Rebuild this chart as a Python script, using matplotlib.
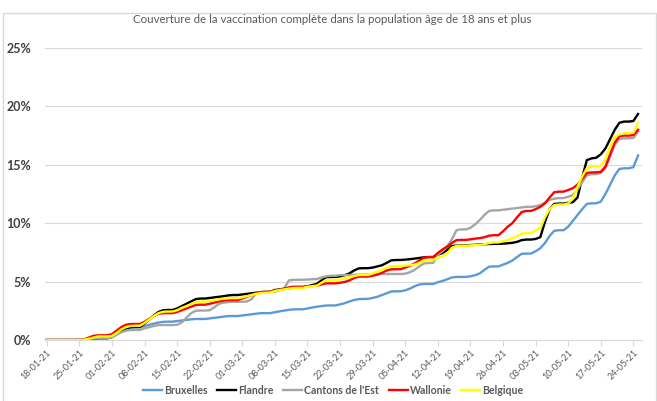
import numpy as np
import matplotlib
matplotlib.use('Agg')
import matplotlib.pyplot as plt
import matplotlib.dates as mdates
from matplotlib.patches import Rectangle
import pandas as pd

plt.rcParams['font.family'] = ['Lato', 'DejaVu Sans']

# daily values (%), from 18-01-21 to 25-05-21
dates = pd.date_range('2021-01-18', '2021-05-25', freq='D')

bruxelles = [0, 0, 0, 0, 0, 0, 0,
             0, 0.02, 0.05, 0.1, 0.15, 0.15, 0.15,
             0.3, 0.55, 0.8, 0.95, 1.05, 1.08, 1.08,
             1.2, 1.3, 1.4, 1.5, 1.55, 1.57, 1.57,
             1.62, 1.67, 1.72, 1.77, 1.8, 1.8, 1.8,
             1.85, 1.9, 1.95, 2.0, 2.05, 2.05, 2.05,
             2.1, 2.15, 2.2, 2.25, 2.3, 2.3, 2.3,
             2.38, 2.45, 2.52, 2.58, 2.62, 2.63, 2.63,
             2.7, 2.78, 2.85, 2.9, 2.95, 2.96, 2.96,
             3.05, 3.15, 3.3, 3.42, 3.5, 3.52, 3.52,
             3.6, 3.7, 3.85, 4.0, 4.15, 4.17, 4.17,
             4.25, 4.4, 4.6, 4.75, 4.8, 4.8, 4.8,
             4.95, 5.05, 5.2, 5.35, 5.4, 5.4, 5.4,
             5.45, 5.55, 5.7, 6.0, 6.28, 6.3, 6.3,
             6.45, 6.6, 6.8, 7.1, 7.38, 7.4, 7.4,
             7.6, 7.85, 8.3, 8.9, 9.35, 9.4, 9.4,
             9.7, 10.2, 10.7, 11.2, 11.65, 11.7, 11.7,
             11.85, 12.5, 13.3, 14.1, 14.65, 14.7, 14.7,
             14.8, 15.8]

flandre = [0, 0, 0, 0, 0, 0, 0,
           0, 0, 0.03, 0.08, 0.15, 0.15, 0.15,
           0.25, 0.5, 0.8, 1.0, 1.1, 1.12, 1.12,
           1.4, 1.75, 2.1, 2.4, 2.55, 2.57, 2.57,
           2.7, 2.9, 3.1, 3.3, 3.5, 3.55, 3.55,
           3.6, 3.65, 3.7, 3.75, 3.82, 3.85, 3.85,
           3.9, 3.95, 4.0, 4.05, 4.1, 4.12, 4.12,
           4.28, 4.33, 4.38, 4.42, 4.5, 4.52, 4.52,
           4.6, 4.7, 4.8, 5.1, 5.37, 5.4, 5.4,
           5.45, 5.55, 5.7, 5.95, 6.13, 6.15, 6.15,
           6.2, 6.3, 6.4, 6.6, 6.82, 6.85, 6.85,
           6.88, 6.92, 6.97, 7.02, 7.08, 7.1, 7.1,
           7.3, 7.45, 7.7, 8.05, 8.08, 8.1, 8.1,
           8.13, 8.15, 8.18, 8.2, 8.22, 8.23, 8.23,
           8.25, 8.28, 8.32, 8.4, 8.55, 8.6, 8.6,
           8.65, 8.8, 10.1, 11.2, 11.65, 11.68, 11.68,
           11.75, 11.8, 12.2, 13.9, 15.4, 15.55, 15.6,
           15.9, 16.4, 17.2, 18.0, 18.6, 18.7, 18.7,
           18.75, 19.35]

cantons = [0, 0, 0, 0, 0, 0.02, 0.02,
           0.05, 0.08, 0.1, 0.12, 0.15, 0.15, 0.15,
           0.25, 0.45, 0.65, 0.8, 0.86, 0.86, 0.86,
           1.0, 1.1, 1.2, 1.28, 1.28, 1.28, 1.28,
           1.3, 1.5, 1.9, 2.3, 2.5, 2.52, 2.52,
           2.55, 2.8, 3.1, 3.2, 3.25, 3.27, 3.27,
           3.28, 3.3, 3.5, 4.0, 4.1, 4.12, 4.12,
           4.15, 4.25, 4.42, 5.1, 5.15, 5.16, 5.16,
           5.18, 5.2, 5.22, 5.35, 5.45, 5.5, 5.5,
           5.56, 5.56, 5.56, 5.58, 5.6, 5.6, 5.6,
           5.63, 5.65, 5.65, 5.65, 5.65, 5.65, 5.65,
           5.68, 5.8, 6.0, 6.3, 6.55, 6.6, 6.6,
           7.3, 7.6, 8.0, 8.6, 9.4, 9.47, 9.47,
           9.6, 9.9, 10.27, 10.7, 11.05, 11.1, 11.1,
           11.15, 11.2, 11.25, 11.3, 11.35, 11.4, 11.4,
           11.45, 11.55, 11.75, 12.0, 12.1, 12.15, 12.15,
           12.27, 12.4, 12.9, 13.5, 14.1, 14.2, 14.2,
           14.3, 14.7, 15.7, 16.7, 17.2, 17.27, 17.27,
           17.3, 17.84]

wallonie = [0, 0, 0, 0, 0, 0, 0,
            0, 0.05, 0.2, 0.35, 0.4, 0.4, 0.4,
            0.5, 0.8, 1.1, 1.3, 1.37, 1.37, 1.37,
            1.55, 1.8, 2.05, 2.25, 2.3, 2.3, 2.3,
            2.4, 2.55, 2.7, 2.85, 3.0, 3.02, 3.02,
            3.1, 3.2, 3.3, 3.38, 3.42, 3.42, 3.42,
            3.55, 3.7, 3.85, 4.0, 4.1, 4.12, 4.12,
            4.2, 4.3, 4.4, 4.5, 4.56, 4.56, 4.56,
            4.6, 4.62, 4.65, 4.75, 4.85, 4.85, 4.85,
            4.9, 4.97, 5.1, 5.3, 5.42, 5.43, 5.43,
            5.5, 5.6, 5.75, 5.95, 6.05, 6.06, 6.06,
            6.2, 6.35, 6.55, 6.8, 7.05, 7.1, 7.1,
            7.45, 7.75, 8.0, 8.3, 8.55, 8.57, 8.57,
            8.62, 8.68, 8.72, 8.8, 8.93, 8.97, 8.97,
            9.3, 9.7, 10.0, 10.5, 10.95, 11.05, 11.05,
            11.2, 11.4, 11.7, 12.2, 12.65, 12.7, 12.7,
            12.84, 13.0, 13.3, 13.8, 14.3, 14.35, 14.35,
            14.4, 14.85, 15.9, 16.9, 17.45, 17.5, 17.5,
            17.55, 18.0]

belgique = [0, 0, 0, 0, 0, 0, 0,
            0, 0.03, 0.1, 0.2, 0.3, 0.3, 0.3,
            0.35, 0.6, 0.9, 1.1, 1.2, 1.22, 1.22,
            1.45, 1.75, 2.05, 2.3, 2.42, 2.44, 2.44,
            2.55, 2.75, 2.9, 3.08, 3.25, 3.28, 3.28,
            3.35, 3.42, 3.48, 3.53, 3.57, 3.58, 3.58,
            3.65, 3.75, 3.85, 3.95, 4.02, 4.05, 4.05,
            4.2, 4.27, 4.33, 4.4, 4.45, 4.46, 4.46,
            4.55, 4.6, 4.65, 4.9, 5.14, 5.14, 5.14,
            5.18, 5.28, 5.37, 5.48, 5.56, 5.57, 5.57,
            5.7, 5.85, 6.0, 6.2, 6.32, 6.34, 6.34,
            6.38, 6.4, 6.45, 6.6, 6.8, 6.85, 6.85,
            7.05, 7.15, 7.4, 7.9, 8.05, 8.07, 8.07,
            8.1, 8.12, 8.15, 8.2, 8.3, 8.35, 8.35,
            8.45, 8.56, 8.7, 8.9, 9.1, 9.15, 9.15,
            9.4, 9.56, 10.5, 11.2, 11.55, 11.6, 11.6,
            11.7, 12.1, 13.1, 14.0, 14.7, 14.85, 14.85,
            14.9, 15.5, 16.5, 17.4, 17.6, 17.7, 17.7,
            17.75, 18.6]

series = [('Bruxelles', bruxelles, '#5B9BD5'),
          ('Flandre', flandre, '#000000'),
          ("Cantons de l'Est", cantons, '#A5A5A5'),
          ('Wallonie', wallonie, '#FF0000'),
          ('Belgique', belgique, '#FFFF00')]

fig = plt.figure(figsize=(6.57, 4.01), dpi=100)
fig.patches.append(Rectangle((3/657, -0.01), 653/657, 1 - 13/401 + 0.01,
                             transform=fig.transFigure, fill=False,
                             edgecolor='#D9D9D9', lw=1))
ax = fig.add_axes([45/657, 1 - 340/401, 597/657, 292/401])

for name, vals, col in series:
    ax.plot(dates, vals, color=col, lw=1.7, label=name)

ax.set_ylim(0, 25)
ax.set_yticks([0, 5, 10, 15, 20, 25])
ax.set_yticklabels(['%d%%' % v for v in [0, 5, 10, 15, 20, 25]],
                   fontsize=9, fontweight='bold', color='#404040')
ax.set_xlim(dates[0] - pd.Timedelta(hours=9), dates[0] + pd.Timedelta(days=127.85))
ax.set_xticks(pd.date_range('2021-01-18', '2021-05-24', freq='7D'))
ax.xaxis.set_major_formatter(mdates.DateFormatter('%d-%m-%y'))
for lab in ax.get_xticklabels():
    lab.set_rotation(45)
    lab.set_ha('right')
    lab.set_rotation_mode('anchor')
    lab.set_fontsize(6.5)
    lab.set_color('#595959')

ax.grid(axis='y', color='#D9D9D9', lw=0.8)
ax.set_axisbelow(True)
for s in ['top', 'right', 'left']:
    ax.spines[s].set_visible(False)
ax.spines['bottom'].set_color('#D9D9D9')
ax.tick_params(axis='y', length=0, pad=10)
ax.tick_params(axis='x', length=4, color='#D9D9D9', pad=2)

fig.text(0.505, 1 - 19.5/401, 'Couverture de la vaccination complète dans la population âge de 18 ans et plus',
         ha='center', va='center', fontsize=8.3, color='#595959')

fig.legend(loc='center', bbox_to_anchor=(0.507, 1 - 390/401), ncol=5, frameon=False,
           handlelength=1.8, columnspacing=0.9, handletextpad=0.2,
           labelcolor='#595959', prop={'weight': 'bold', 'size': 7.6})

fig.savefig('out.png', dpi=100)
